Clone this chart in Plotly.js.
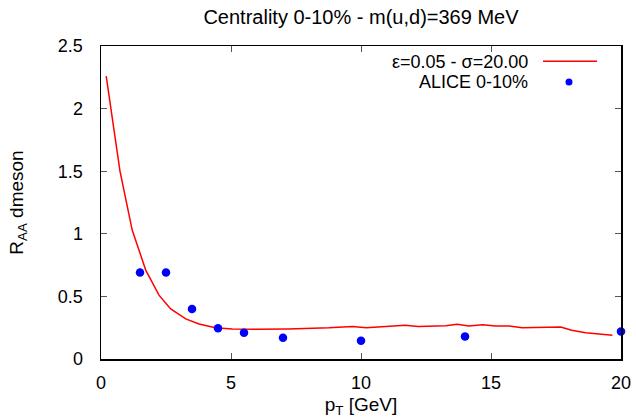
<!DOCTYPE html>
<html>
<head>
<meta charset="utf-8">
<script src="https://cdn.plot.ly/plotly-3.0.1.min.js"></script>
<style>html,body{margin:0;padding:0;background:#fff;}#chart{width:636px;height:419px;}</style>
</head>
<body>
<div id="chart"></div>
<script>
// Model curve: epsilon=0.05, sigma=20.00
const modelPt  = [0.2, 0.73, 1.2, 1.72, 2.23, 2.68, 3.26, 3.77, 4.4, 5.05, 5.95, 7.2, 8.77, 9.67, 10.2, 10.95, 11.7, 12.2, 13.26, 13.7, 14.15, 14.67, 15.18, 15.7, 16.2, 17.68, 18.1, 18.64, 19.67];
const modelRaa = [2.26, 1.50, 1.03, 0.71, 0.51, 0.40, 0.32, 0.28, 0.25, 0.24, 0.237, 0.24, 0.25, 0.26, 0.25, 0.26, 0.27, 0.26, 0.266, 0.277, 0.264, 0.274, 0.264, 0.264, 0.25, 0.256, 0.23, 0.21, 0.19];
// ALICE 0-10% data
const alicePt  = [1.5, 2.5, 3.5, 4.5, 5.5, 7, 10, 14, 20];
const aliceRaa = [0.69, 0.69, 0.40, 0.245, 0.21, 0.17, 0.145, 0.18, 0.22];

const titleText = "Centrality 0-10% - m(u,d)=369 MeV";
const xTitle = "p<sub>T</sub> [GeV]";
const yTitle = "R<sub>AA</sub> dmeson";
const modelName = "ε=0.05 - σ=20.00";
const aliceName = "ALICE 0-10%";
const xTicks = [0, 5, 10, 15, 20];
const yTicks = [0, 0.5, 1, 1.5, 2, 2.5];

const FONT = "Liberation Sans, Arial, sans-serif";

const traces = [
  {x: modelPt, y: modelRaa, type: 'scatter', mode: 'lines', name: modelName,
   line: {color: '#ff0000', width: 1.5}, showlegend: false},
  {x: alicePt, y: aliceRaa, type: 'scatter', mode: 'markers', name: aliceName,
   marker: {color: '#0000ff', size: 8.5}, cliponaxis: false, showlegend: false}
];

const axisCommon = {
  showline: true, linecolor: '#000', linewidth: 1.5, mirror: 'ticks',
  ticks: 'inside', ticklen: 6, tickcolor: '#555', tickwidth: 1,
  showgrid: false, zeroline: false,
  tickfont: {family: FONT, size: 18, color: '#000'}
};

const layout = {
  width: 636, height: 419,
  margin: {l: 101, r: 15, t: 46, b: 60},
  paper_bgcolor: '#fff', plot_bgcolor: '#fff',
  showlegend: false,
  title: {text: titleText, font: {family: FONT, size: 20, color: '#000'},
          x: 0.5, xref: 'paper', y: 1 - 17/419, yref: 'container', yanchor: 'middle'},
  xaxis: Object.assign({}, axisCommon, {
    range: [0, 20], tickvals: xTicks, ticktext: xTicks.map(String),
    ticklabelstandoff: 7,
    title: {text: xTitle, font: {family: FONT, size: 19, color: '#000'}, standoff: 5}
  }),
  yaxis: Object.assign({}, axisCommon, {
    range: [0, 2.5], tickvals: yTicks, ticktext: yTicks.map(String),
    ticklabelstandoff: 13,
    title: {text: yTitle, font: {family: FONT, size: 19, color: '#000'}, standoff: 29}
  }),
  annotations: [
    {text: modelName, xref: 'paper', yref: 'paper', x: 0.825, y: 0.949,
     xanchor: 'right', yanchor: 'middle', showarrow: false,
     font: {family: FONT, size: 18, color: '#000'}},
    {text: aliceName, xref: 'paper', yref: 'paper', x: 0.825, y: 0.885,
     xanchor: 'right', yanchor: 'middle', showarrow: false,
     font: {family: FONT, size: 18, color: '#000'}}
  ],
  shapes: [
    {type: 'line', xref: 'paper', yref: 'paper', x0: 0.85, x1: 0.954, y0: 0.951, y1: 0.951,
     line: {color: '#ff0000', width: 1.5}},
    {type: 'circle', xref: 'paper', yref: 'paper', xsizemode: 'pixel', ysizemode: 'pixel',
     xanchor: 0.9, yanchor: 0.885, x0: -3.5, x1: 3.5, y0: -3.5, y1: 3.5,
     fillcolor: '#0000ff', line: {width: 0}}
  ]
};

Plotly.newPlot('chart', traces, layout, {staticPlot: true, displayModeBar: false});
</script>
</body>
</html>
